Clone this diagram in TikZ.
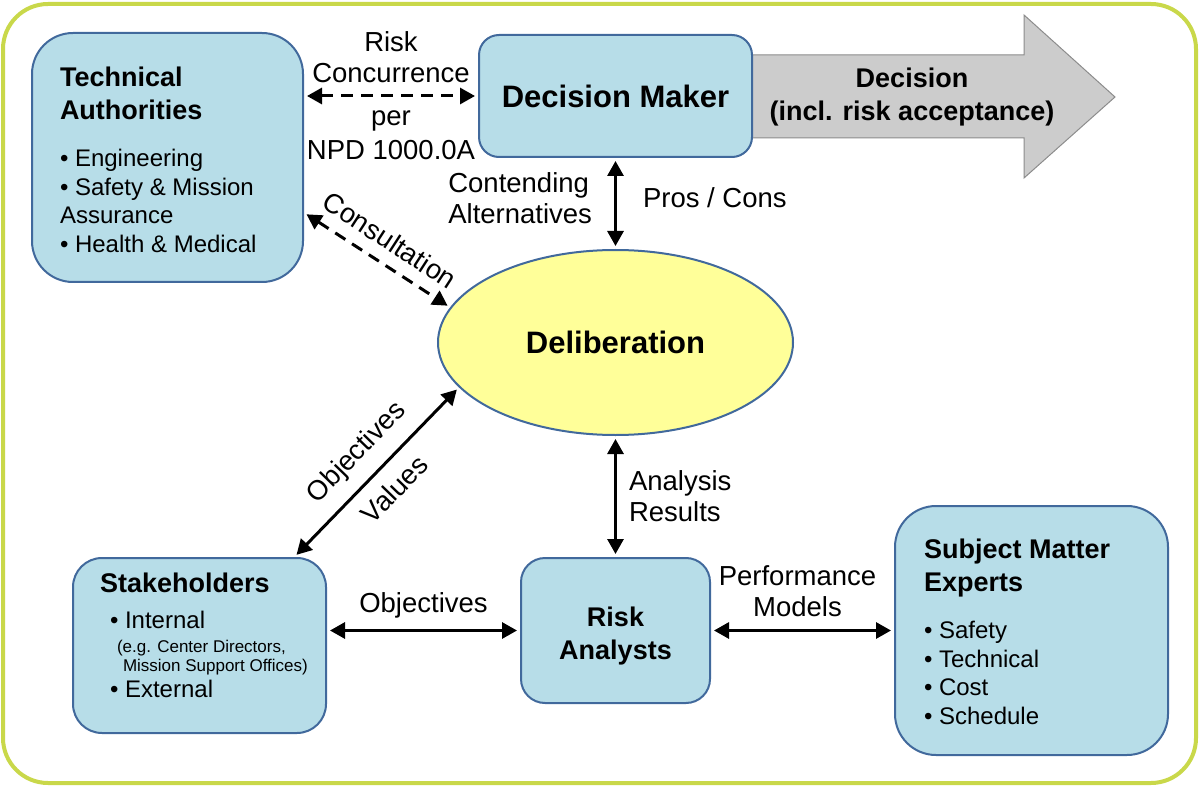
\documentclass[tikz,border=0pt]{standalone}
\usepackage{fontspec}
\setmainfont{Liberation Sans}
\usetikzlibrary{arrows.meta,shapes.geometric}

\definecolor{boxfill}{HTML}{B7DDE8}
\definecolor{boxline}{HTML}{41699C}
\definecolor{delibfill}{HTML}{FFFF99}
\definecolor{framegreen}{HTML}{C9D84A}

\newcommand{\headfont}{\fontsize{27}{33}\selectfont\bfseries}
\newcommand{\itemfont}{\fontsize{24}{28.5}\selectfont}
\newcommand{\notefont}{\fontsize{17}{19}\selectfont}
\newcommand{\lblfont}{\fontsize{27.5}{31}\selectfont}

\tikzset{
  box/.style={draw=boxline, fill=boxfill, line width=2pt, inner ysep=0pt},
  link/.style={<->, >={Triangle[length=15pt,width=16pt]}, line width=3pt, shorten <=3pt, shorten >=3pt},
  dashlink/.style={link, dash pattern=on 12pt off 8pt},
  lbl/.style={font=\lblfont, align=center, inner sep=2pt}
}

\begin{document}
\begin{tikzpicture}[x=1pt,y=-1pt]
            \useasboundingbox (0,0) rectangle (1199,786);
            \draw[framegreen, line width=4pt, rounded corners=45pt] (3,4) rectangle (1196,783);

            % decision arrow
            \draw[fill=black!20, draw=black!45, line width=1pt] (740,55) -- (1024,55) -- (1024,15) -- (1115,97) -- (1024,178) -- (1024,138) -- (740,138) -- cycle;
            \node[font=\headfont, align=center](DEC) at (912,97) {Decision\\(incl. risk acceptance)};

            \node[box, inner xsep=28pt, rounded corners=41pt](TA) at (167.5,157.5) {\parbox[c][249pt][t]{215pt}{\vspace*{34pt}{\headfont Technical\par Authorities\par}\vspace{18.5pt}{\itemfont • Engineering\par • Safety \& Mission\par Assurance\par • Health \& Medical\par}}};
            \node[box, rounded corners=20pt, minimum width=273pt, minimum height=122pt, font=\fontsize{31}{36}\selectfont\bfseries](DM) at (615.5,96) {Decision Maker};
            \node[ellipse, draw=boxline, fill=delibfill, line width=2pt, minimum width=355pt, minimum height=185pt, inner sep=0pt, font=\fontsize{31}{36}\selectfont\bfseries](DL) at (615.5,342.5) {Deliberation};
            \node[box, inner xsep=27pt, rounded corners=29pt](SH) at (199.5,645.5) {\parbox[c][175pt][t]{199pt}{\vspace*{15pt}{\headfont Stakeholders\par}\vspace{7.5pt}{\itemfont\hspace*{10pt}• Internal\par}\vspace{5pt}{\notefont\hspace*{17pt}\mbox{(e.g. Center Directors,}\par\hspace*{23pt}\mbox{Mission Support Offices)}\par}\vspace{-2.5pt}{\itemfont\hspace*{10pt}• External\par}}};
            \node[box, inner xsep=0pt, rounded corners=24pt](RA) at (615.5,630.5) {\parbox[c][145pt][t]{189pt}{\vspace*{49pt}\centering{\headfont Risk\par Analysts\par}}};
            \node[box, inner xsep=29pt, rounded corners=41pt](SME) at (1031.5,630.5) {\parbox[c][249pt][t]{215pt}{\vspace*{33pt}{\headfont Subject Matter\par Experts\par}\vspace{18.5pt}{\itemfont • Safety\par • Technical\par • Cost\par • Schedule\par}}};

            \path
                (TA.east |- DM.west)
                    edge [dashlink] node[lbl, above=10pt](RC) {Risk\\Concurrence} node[lbl, below=11pt](NPD) {per\\[3pt]NPD 1000.0A} (DM.west)
                (TA.-22)
                    edge [dashlink] node[lbl, sloped, above=10pt](CONS) {Consultation} (DL.168)
                (DM.south)
                    edge [link] node[lbl, left=20pt, align=left, pos=0.44](CA) {Contending\\Alternatives} node[lbl, right=24pt, pos=0.44](PC) {Pros / Cons} (DL.north)
                (SH.43)
                    edge [link] node[lbl, sloped, above=11pt](OBJ) {Objectives} node[lbl, sloped, below=11pt](VAL) {Values} (DL.196)
                (DL.south)
                    edge [link] node[lbl, right=10pt, align=left](AR) {Analysis\\Results} (RA.north)
                (SH.east |- RA.west)
                    edge [link] node[lbl, above=9pt](OBJB) {Objectives} (RA.west)
                (RA.east)
                    edge [link] node[lbl, above=10pt, xshift=-5pt](PM) {Performance\\Models} (SME.west)
                ;
        \end{tikzpicture}
\end{document}
